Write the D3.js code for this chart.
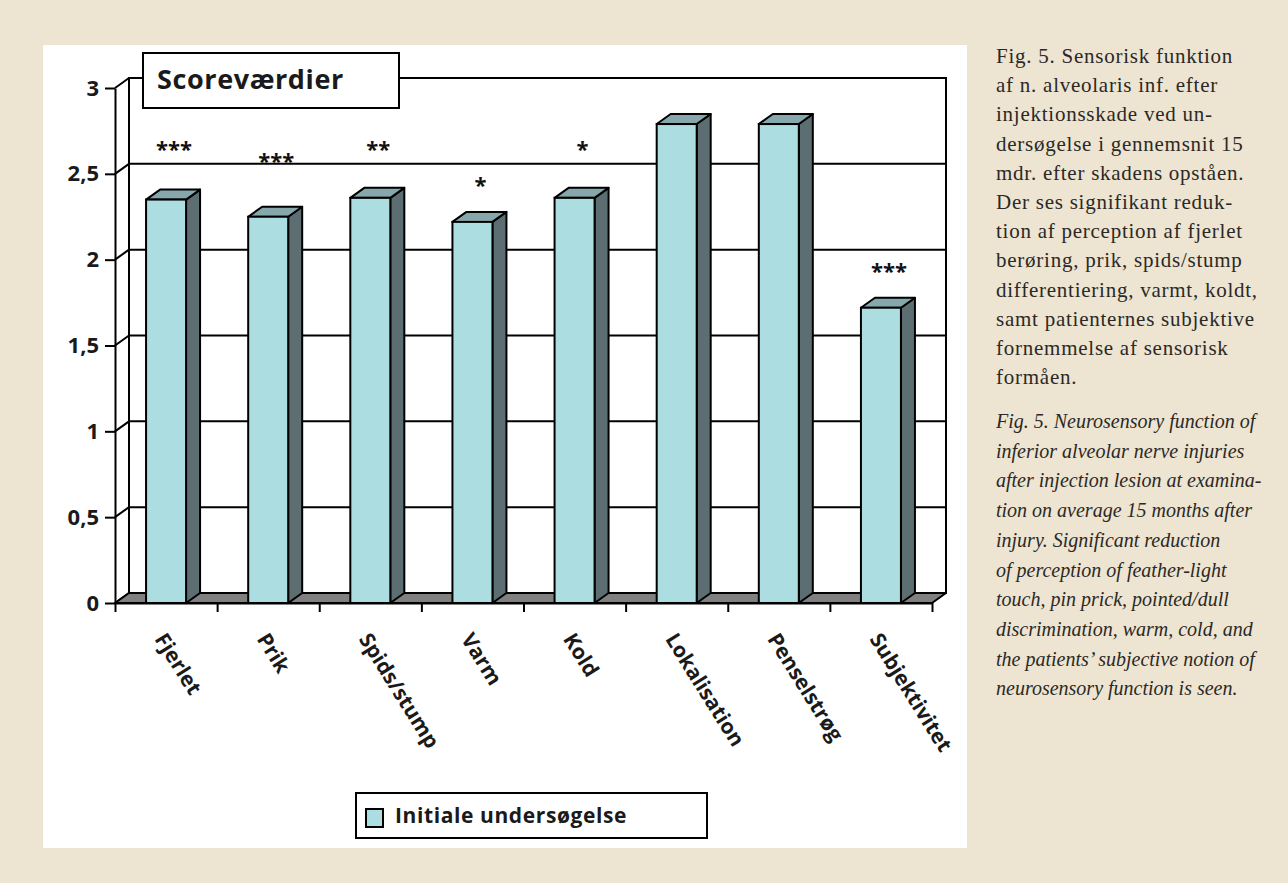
<!DOCTYPE html>
<html>
<head>
<meta charset="utf-8">
<script src="https://cdn.jsdelivr.net/npm/d3@7"></script>
<style>
  html, body { margin: 0; padding: 0; background: #ede4d1; }
  svg { display: block; }
</style>
</head>
<body>
<svg id="chart" width="1288" height="883"></svg>
<script>
// data
const categories = ["Fjerlet", "Prik", "Spids/stump", "Varm", "Kold", "Lokalisation", "Penselstrøg", "Subjektivitet"];
const scores     = [2.35, 2.25, 2.36, 2.22, 2.36, 2.79, 2.79, 1.72];
const stars      = ["***", "***", "**", "*", "*", "", "", "***"];
const starLevels = [2.67, 2.60, 2.67, 2.46, 2.67, null, null, 1.96];
const yTicks     = [0, 0.5, 1, 1.5, 2, 2.5, 3];
const yTickText  = ["0", "0,5", "1", "1,5", "2", "2,5", "3"];
const chartTitle = "Scoreværdier";
const seriesName = "Initiale undersøgelse";

const captionDa = [
    "Fig. 5. Sensorisk funktion",
    "af n. alveolaris inf. efter",
    "injektionsskade ved un-",
    "dersøgelse i gennemsnit 15",
    "mdr. efter skadens opståen.",
    "Der ses signifikant reduk-",
    "tion af perception af fjerlet",
    "berøring, prik, spids/stump",
    "differentiering, varmt, koldt,",
    "samt patienternes subjektive",
    "fornemmelse af sensorisk",
    "formåen."
];
const captionEn = [
    "Fig. 5. Neurosensory function of",
    "inferior alveolar nerve injuries",
    "after injection lesion at examina-",
    "tion on average 15 months after",
    "injury. Significant reduction",
    "of perception of feather-light",
    "touch, pin prick, pointed/dull",
    "discrimination, warm, cold, and",
    "the patients’ subjective notion of",
    "neurosensory function is seen."
];

const svg = d3.select("#chart");
const FONT = "'Open Sans', sans-serif";
const INK = "#1a1a1a";

// ── Layout ───────────────────────────────────────────────────────
const X0 = 115, X1 = 932;       // front x-axis
const Y0 = 603, Y3 = 88;        // front y-axis (value 0 .. 3)
const DX = 14, DY = -10;        // 3D depth offset
const BAR_W = 40;

const x = d3.scaleBand().domain(categories).range([X0, X1]);
const xb = d3.scaleLinear().domain([0, categories.length]).range([X0, X1]);
const y = d3.scaleLinear().domain([0, 3]).range([Y0, Y3]);

// white panel
svg.append("rect")
    .attr("x", 43).attr("y", 45).attr("width", 924).attr("height", 803)
    .attr("fill", "#ffffff");

// ── Walls ────────────────────────────────────────────────────────
svg.append("rect")
    .attr("x", X0 + DX).attr("y", y(3) + DY)
    .attr("width", X1 - X0).attr("height", y(0) - y(3))
    .attr("fill", "#ffffff").attr("stroke", "#000").attr("stroke-width", 2);

yTicks.forEach(v => {
    if (v > 0 && v < 3) {
        svg.append("line")
            .attr("x1", X0 + DX).attr("x2", X1 + DX)
            .attr("y1", y(v) + DY).attr("y2", y(v) + DY)
            .attr("stroke", "#000").attr("stroke-width", 2);
    }
    svg.append("line")
        .attr("x1", X0).attr("y1", y(v))
        .attr("x2", X0 + DX).attr("y2", y(v) + DY)
        .attr("stroke", "#000").attr("stroke-width", 2);
});

// floor
svg.append("polygon")
    .attr("points", [[X0, Y0], [X1, Y0], [X1 + DX, Y0 + DY], [X0 + DX, Y0 + DY]].join(" "))
    .attr("fill", "#808080").attr("stroke", "#000").attr("stroke-width", 2)
    .attr("stroke-linejoin", "round");

// ── Axes ─────────────────────────────────────────────────────────
const yAxis = svg.append("g")
    .attr("transform", `translate(${X0},0)`)
    .call(d3.axisLeft(y).tickValues(yTicks).tickSize(10).tickSizeOuter(0).tickPadding(6)
        .tickFormat((d, i) => yTickText[i]));
yAxis.select(".domain").attr("stroke", "#000").attr("stroke-width", 2);
yAxis.selectAll(".tick line").attr("stroke", "#000").attr("stroke-width", 2);
yAxis.selectAll(".tick text")
    .attr("font-family", FONT).attr("font-size", 22).attr("font-weight", 700)
    .attr("fill", INK);

const xAxis = svg.append("g")
    .attr("transform", `translate(0,${Y0})`)
    .call(d3.axisBottom(xb).tickValues(d3.range(categories.length + 1)).tickSize(9)
        .tickSizeOuter(0).tickFormat(""));
xAxis.select(".domain").attr("stroke", "#000").attr("stroke-width", 2);
xAxis.selectAll(".tick line").attr("stroke", "#000").attr("stroke-width", 2);

// ── Bars ─────────────────────────────────────────────────────────
categories.forEach((c, i) => {
    const v = scores[i];
    const bx0 = x(c) + x.bandwidth() / 2 - BAR_W / 2;
    const bx1 = bx0 + BAR_W;
    const top = y(v);

    svg.append("polygon")     // side
        .attr("points", [[bx1, top], [bx1 + DX, top + DY], [bx1 + DX, Y0 + DY], [bx1, Y0]].join(" "))
        .attr("fill", "#5d6e73").attr("stroke", "#000").attr("stroke-width", 2)
        .attr("stroke-linejoin", "round");
    svg.append("polygon")     // top
        .attr("points", [[bx0, top], [bx0 + DX, top + DY], [bx1 + DX, top + DY], [bx1, top]].join(" "))
        .attr("fill", "#86a8ac").attr("stroke", "#000").attr("stroke-width", 2)
        .attr("stroke-linejoin", "round");
    svg.append("rect")        // front
        .attr("x", bx0).attr("y", top)
        .attr("width", BAR_W).attr("height", Y0 - top)
        .attr("fill", "#acdde1").attr("stroke", "#000").attr("stroke-width", 2);

    if (stars[i]) {
        svg.append("text")
            .attr("x", x(c) + x.bandwidth() / 2 + 8)
            .attr("y", y(starLevels[i]) + 12)
            .attr("text-anchor", "middle")
            .attr("font-family", FONT).attr("font-size", 22).attr("font-weight", 700)
            .attr("fill", "#111")
            .text(stars[i]);
    }

    svg.append("text")
        .attr("transform", `translate(${x(c) + x.bandwidth() / 2 - 12},${Y0 + 36}) rotate(58)`)
        .attr("font-family", FONT).attr("font-size", 21).attr("font-weight", 700)
        .attr("fill", INK)
        .text(c);
});

// ── Title box ────────────────────────────────────────────────────
svg.append("rect")
    .attr("x", 143).attr("y", 53).attr("width", 256).attr("height", 55)
    .attr("fill", "#fff").attr("stroke", "#000").attr("stroke-width", 2);
svg.append("text")
    .attr("x", 157).attr("y", 89)
    .attr("font-family", FONT).attr("font-size", 27).attr("font-weight", 700)
    .attr("letter-spacing", "0.6px")
    .attr("fill", INK)
    .text(chartTitle);

// ── Legend ───────────────────────────────────────────────────────
svg.append("rect")
    .attr("x", 356).attr("y", 793).attr("width", 351).attr("height", 45)
    .attr("fill", "#fff").attr("stroke", "#000").attr("stroke-width", 2);
svg.append("rect")
    .attr("x", 366).attr("y", 809).attr("width", 17).attr("height", 18)
    .attr("fill", "#acdde1").attr("stroke", "#000").attr("stroke-width", 2);
svg.append("text")
    .attr("x", 395).attr("y", 823)
    .attr("font-family", FONT).attr("font-size", 21).attr("font-weight", 700)
    .attr("letter-spacing", "0.6px")
    .attr("fill", INK)
    .text(seriesName);

// ── Caption ──────────────────────────────────────────────────────
svg.append("g").selectAll("text")
    .data(captionDa).join("text")
    .attr("x", 996).attr("y", (d, i) => 63 + i * 29.2)
    .attr("font-family", "'Liberation Serif', serif").attr("font-size", 21)
    .attr("letter-spacing", "0.75px").attr("fill", "#2b2926")
    .text(d => d);

svg.append("g").selectAll("text")
    .data(captionEn).join("text")
    .attr("x", 996).attr("y", (d, i) => 428 + i * 29.7)
    .attr("font-family", "'Liberation Serif', serif").attr("font-size", 20)
    .attr("font-style", "italic")
    .attr("fill", "#2b2926")
    .text(d => d);
</script>
</body>
</html>
